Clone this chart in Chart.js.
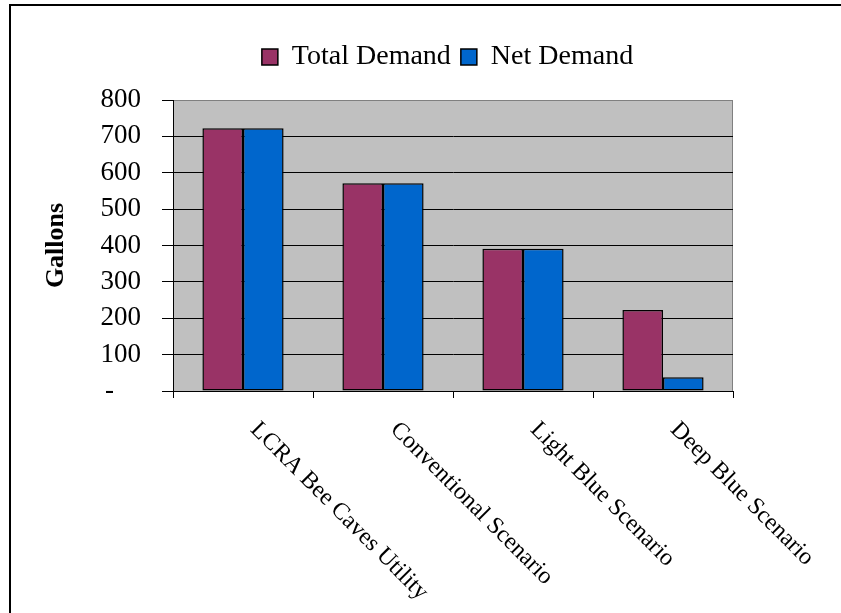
<!DOCTYPE html>
<html>
<head>
<meta charset="utf-8">
<script src="https://cdn.jsdelivr.net/npm/chart.js@4"></script>
<style>
  html, body { margin: 0; padding: 0; background: #fff; }
  #wrap { width: 841px; height: 613px; position: relative; }
</style>
</head>
<body>
<div id="wrap"><canvas id="demand"></canvas></div>
<script>
var categories = ['LCRA Bee Caves Utility', 'Conventional Scenario', 'Light Blue Scenario', 'Deep Blue Scenario'];
var totalDemand = [722, 571, 391, 223];
var netDemand = [722, 571, 391, 38];
var yTicks = [0, 100, 200, 300, 400, 500, 600, 700, 800];

var serif = "'Liberation Serif', 'Times New Roman', serif";

/**
 * grey plot area + outer frame
 */
var backdrop = {
    id: 'backdrop',
    beforeDraw: function(chart) {
        var ctx = chart.ctx;
        var a = chart.chartArea;
        ctx.save();
        ctx.fillStyle = '#fff';
        ctx.fillRect(0, 0, chart.width, chart.height);
        ctx.fillStyle = '#c0c0c0';
        ctx.fillRect(a.left, a.top, a.right - a.left, a.bottom - a.top);
        ctx.strokeStyle = '#808080';
        ctx.lineWidth = 1;
        ctx.strokeRect(a.left + 0.5, a.top + 0.5, a.right - a.left - 1, a.bottom - a.top);
        // frame, cut off at right and bottom like the original
        ctx.strokeStyle = '#000';
        ctx.lineWidth = 2;
        ctx.strokeRect(10, 5, chart.width + 20, chart.height + 20);
        ctx.restore();
    }
};

/**
 * shift the legend to sit over the plot like the original
 */
var legendShift = {
    id: 'legendShift',
    afterLayout: function(chart) {
        chart.legend.left += 66;
        chart.legend.right += 66;
    }
};

/**
 * x labels turned 45deg clockwise, starting under each category
 */
var slantLabels = {
    id: 'slantLabels',
    afterDraw: function(chart) {
        var ctx = chart.ctx;
        var xs = chart.scales.x;
        ctx.save();
        ctx.font = '24px ' + serif;
        ctx.fillStyle = '#000';
        ctx.textAlign = 'left';
        ctx.textBaseline = 'middle';
        for (var i = 0; i < categories.length; i++) {
            var x = xs.getPixelForValue(i) + 11;
            var y = chart.chartArea.bottom + 35;
            ctx.save();
            ctx.translate(x, y);
            ctx.rotate(Math.PI / 4);
            ctx.fillText(categories[i], 0, 0);
            ctx.restore();
        }
        ctx.restore();
    }
};

function main() {
    var ctx = document.getElementById('demand').getContext('2d');
    new Chart(ctx, {
        type: 'bar',
        data: {
            labels: categories,
            datasets: [{
                label: 'Total Demand',
                data: totalDemand,
                backgroundColor: '#993366',
                borderColor: '#000',
                borderWidth: 1.5,
                borderSkipped: false
            }, {
                label: 'Net Demand',
                data: netDemand,
                backgroundColor: '#0066cc',
                borderColor: '#000',
                borderWidth: 1.5,
                borderSkipped: false
            }]
        },
        options: {
            responsive: true,
            maintainAspectRatio: false,
            animation: false,
            events: [],
            categoryPercentage: 0.58,
            barPercentage: 1.0,
            layout: { padding: { top: 33, left: 30, right: 108, bottom: 0 } },
            plugins: {
                legend: {
                    position: 'top',
                    labels: {
                        boxWidth: 16,
                        boxHeight: 16,
                        padding: 10,
                        color: '#000',
                        font: { family: serif, size: 28 }
                    }
                },
                title: {
                    display: true,
                    text: '',
                    weight: 500,
                    font: { size: 10, lineHeight: 1 },
                    padding: { top: 5, bottom: 4 }
                },
                tooltip: { enabled: false }
            },
            scales: {
                x: {
                    grid: {
                        offset: true,
                        drawOnChartArea: false,
                        drawTicks: true,
                        tickLength: 7,
                        tickColor: '#000'
                    },
                    border: { color: '#000', width: 1 },
                    ticks: { display: false },
                    afterFit: function(scale) { scale.height = 613 - 391; }
                },
                y: {
                    min: 0,
                    max: 800,
                    afterBuildTicks: function(scale) {
                        scale.ticks = yTicks.map(function(v) { return { value: v }; });
                    },
                    grid: {
                        color: function(c) {
                            return c.tick && c.tick.value === 800 ? '#808080' : '#000';
                        },
                        tickColor: '#000',
                        tickLength: 11,
                        lineWidth: 1
                    },
                    border: { color: '#000', width: 1 },
                    ticks: {
                        padding: 21,
                        color: '#000',
                        font: { family: serif, size: 27 },
                        callback: function(v) { return v === 0 ? '-    ' : v; }
                    },
                    title: {
                        display: true,
                        text: 'Gallons',
                        color: '#000',
                        font: { family: serif, size: 26, weight: 'bold' },
                        padding: { top: 11, bottom: 0 }
                    },
                    afterFit: function(scale) { scale.width = 143; }
                }
            }
        },
        plugins: [backdrop, legendShift, slantLabels]
    });
}

main();
</script>
</body>
</html>
